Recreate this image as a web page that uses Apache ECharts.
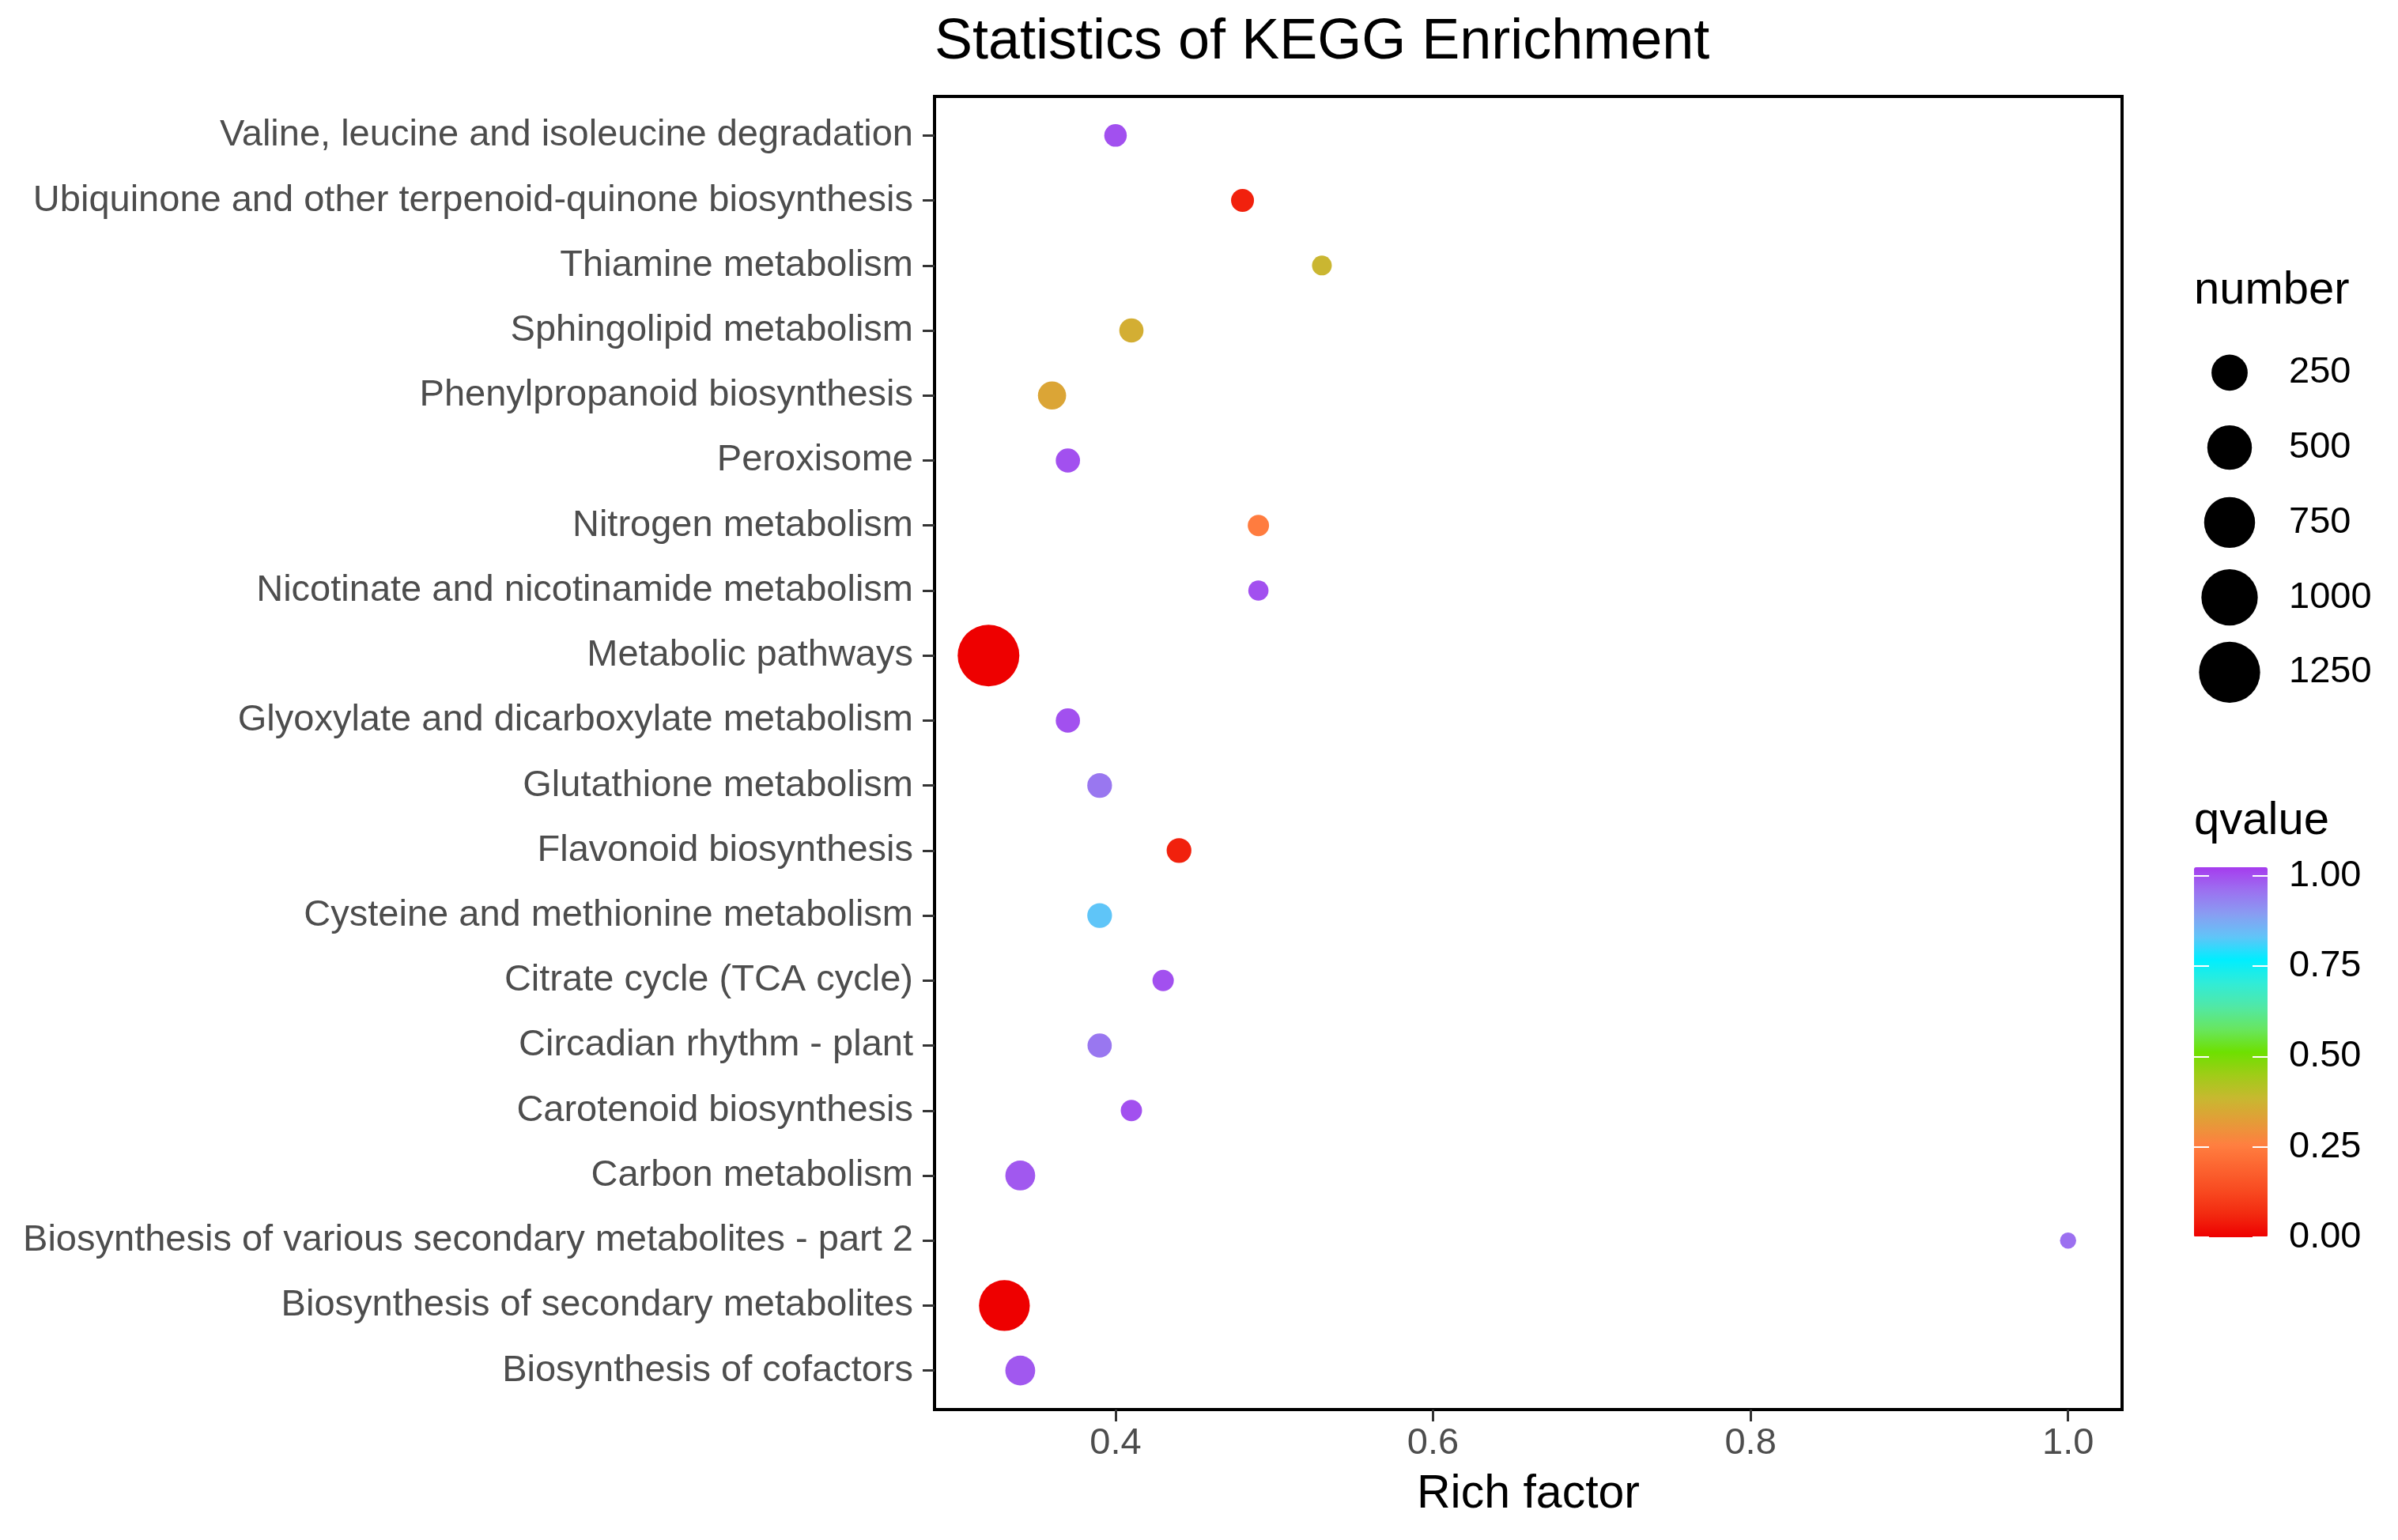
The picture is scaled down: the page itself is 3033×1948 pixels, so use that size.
<!DOCTYPE html>
<html><head><meta charset="utf-8">
<script src="https://cdn.jsdelivr.net/npm/echarts@6/dist/echarts.min.js"></script>
<style>html,body{margin:0;padding:0;background:#fff}#c{width:3033px;height:1948px}</style>
</head><body><div id="c"></div>
<script>
// Categories in ggplot factor order (bottom -> top)
const categories = [
  'Biosynthesis of cofactors',
  'Biosynthesis of secondary metabolites',
  'Biosynthesis of various secondary metabolites - part 2',
  'Carbon metabolism',
  'Carotenoid biosynthesis',
  'Circadian rhythm - plant',
  'Citrate cycle (TCA cycle)',
  'Cysteine and methionine metabolism',
  'Flavonoid biosynthesis',
  'Glutathione metabolism',
  'Glyoxylate and dicarboxylate metabolism',
  'Metabolic pathways',
  'Nicotinate and nicotinamide metabolism',
  'Nitrogen metabolism',
  'Peroxisome',
  'Phenylpropanoid biosynthesis',
  'Sphingolipid metabolism',
  'Thiamine metabolism',
  'Ubiquinone and other terpenoid-quinone biosynthesis',
  'Valine, leucine and isoleucine degradation'
];
const richFactor = [0.34, 0.33, 1.00, 0.34, 0.41, 0.39, 0.43, 0.39, 0.44, 0.39,
                    0.37, 0.32, 0.49, 0.49, 0.37, 0.36, 0.41, 0.53, 0.48, 0.40];
const geneNumber = [118, 744, 3, 118, 19, 43, 19, 48, 48, 48,
                    43, 1280, 13, 19, 43, 92, 43, 11, 31, 28];
const qValue     = [0.99, 0.00, 0.96, 0.99, 1.00, 0.95, 1.00, 0.83, 0.05, 0.95,
                    1.00, 0.00, 1.00, 0.25, 1.00, 0.34, 0.36, 0.38, 0.05, 1.00];

const xTicks = [0.4, 0.6, 0.8, 1.0];
const sizeBreaks = [250, 500, 750, 1000, 1250];
const qTicks = [0, 0.25, 0.5, 0.75, 1.0];
const qLimits = [0, 1.024];
const qColors = ['#EE0000','#F22A10','#F84A20','#FC6430','#FF7F40','#E49C38','#C8B830','#A0CC18',
                 '#6EE000','#68E660','#50E8A8','#30ECD8','#00EEFF','#62C4F8','#8A9CF2','#9C70F0','#A63CEE'];

const FONT = "'Liberation Sans', Arial, Helvetica, sans-serif";
const nMin = Math.min(...geneNumber), nMax = Math.max(...geneNumber);
function sizeOf(n) {
  const t = Math.max(0, (n - nMin) / (nMax - nMin));
  return 20.5 + 57.5 * Math.sqrt(t);
}
const xLo = Math.min(...richFactor), xHi = Math.max(...richFactor);
const xPad = 0.05 * (xHi - xLo);
const yIdx = categories.map((_, i) => i);

const chart = echarts.init(document.getElementById('c'), null, {renderer: 'canvas', width: 3033, height: 1948});
const option = {
  backgroundColor: '#ffffff',
  animation: false,
  textStyle: {fontFamily: FONT},
  title: [
    {text: 'Statistics of KEGG Enrichment', left: 1182, top: 18, padding: 0,
     textStyle: {fontSize: 72, fontWeight: 'normal', color: '#000', fontFamily: FONT}},
    {text: 'number', left: 2775, top: 339, padding: 0,
     textStyle: {fontSize: 58, fontWeight: 'normal', color: '#000', fontFamily: FONT}},
    {text: 'qvalue', left: 2775, top: 1010, padding: 0,
     textStyle: {fontSize: 58, fontWeight: 'normal', color: '#000', fontFamily: FONT}}
  ],
  grid: [
    {left: 1182, top: 122, right: 349, bottom: 165, show: true, borderColor: '#000', borderWidth: 4,
     backgroundColor: '#fff', outerBoundsMode: 'none', containLabel: false},
    {left: 2790, top: 424, width: 60, height: 473.75, show: false, outerBoundsMode: 'none', containLabel: false},
    {left: 2775, top: 1097, width: 93, height: 468, show: false, outerBoundsMode: 'none', containLabel: false}
  ],
  xAxis: [
    {type: 'value', gridIndex: 0, min: xLo - xPad, max: xHi + xPad, position: 'bottom',
     name: 'Rich factor', nameLocation: 'middle', nameGap: 78,
     nameTextStyle: {fontSize: 59, color: '#000', fontFamily: FONT},
     axisLine: {show: false, onZero: false}, splitLine: {show: false},
     axisTick: {show: true, inside: false, customValues: xTicks, length: 15, lineStyle: {color: '#333', width: 3}},
     axisLabel: {show: true, customValues: xTicks, margin: 20, fontSize: 47, color: '#4D4D4D', fontFamily: FONT,
                 formatter: v => Number(v).toFixed(1)}},
    {type: 'value', gridIndex: 1, min: 0, max: 1, show: false},
    {type: 'value', gridIndex: 2, min: 0, max: 1, show: false}
  ],
  yAxis: [
    {type: 'value', gridIndex: 0, min: -0.6, max: categories.length - 1 + 0.6, position: 'left',
     axisLine: {show: false, onZero: false}, splitLine: {show: false},
     axisTick: {show: true, inside: false, customValues: yIdx, length: 15, lineStyle: {color: '#333', width: 3}},
     axisLabel: {show: true, customValues: yIdx, margin: 27, fontSize: 47, color: '#4D4D4D', fontFamily: FONT,
                 formatter: v => categories[Math.round(v)] || ''}},
    {type: 'category', gridIndex: 1, data: sizeBreaks.map(String), inverse: true, position: 'right',
     axisLine: {show: false, onZero: false}, axisTick: {show: false}, splitLine: {show: false},
     axisLabel: {margin: 45, fontSize: 47, color: '#000', fontFamily: FONT, align: 'left'}},
    {type: 'value', gridIndex: 2, min: qLimits[0], max: qLimits[1], position: 'right', z: 10,
     axisLine: {show: false, onZero: false}, splitLine: {show: false},
     axisTick: {show: true, inside: true, customValues: qTicks, length: 19, lineStyle: {color: '#fff', width: 2}},
     axisLabel: {show: true, customValues: qTicks, margin: 27, fontSize: 47, color: '#000', fontFamily: FONT,
                 formatter: v => Number(v).toFixed(2)}},
    {type: 'value', gridIndex: 2, min: qLimits[0], max: qLimits[1], position: 'left', z: 10,
     axisLine: {show: false, onZero: false}, splitLine: {show: false}, axisLabel: {show: false},
     axisTick: {show: true, inside: true, customValues: qTicks, length: 19, lineStyle: {color: '#fff', width: 2}}}
  ],
  visualMap: [{
    type: 'continuous', seriesIndex: 0, dimension: 3, min: qLimits[0], max: qLimits[1],
    left: 2775, top: 1097, itemWidth: 93, itemHeight: 468, padding: 0,
    calculable: false, hoverLink: false, realtime: false, showLabel: false, text: null,
    orient: 'vertical', inRange: {color: qColors}
  }],
  series: [
    {type: 'scatter', xAxisIndex: 0, yAxisIndex: 0,
     data: categories.map((c, i) => [richFactor[i], i, geneNumber[i], qValue[i], c]),
     symbol: 'circle', symbolSize: v => sizeOf(v[2]),
     itemStyle: {opacity: 1}, emphasis: {disabled: true}},
    {type: 'scatter', xAxisIndex: 1, yAxisIndex: 1,
     data: sizeBreaks.map(b => [0.5, String(b)]),
     symbol: 'circle', symbolSize: v => sizeOf(Number(v[1])),
     itemStyle: {color: '#000', opacity: 1}, emphasis: {disabled: true}}
  ]
};
chart.setOption(option);
</script>
</body></html>
